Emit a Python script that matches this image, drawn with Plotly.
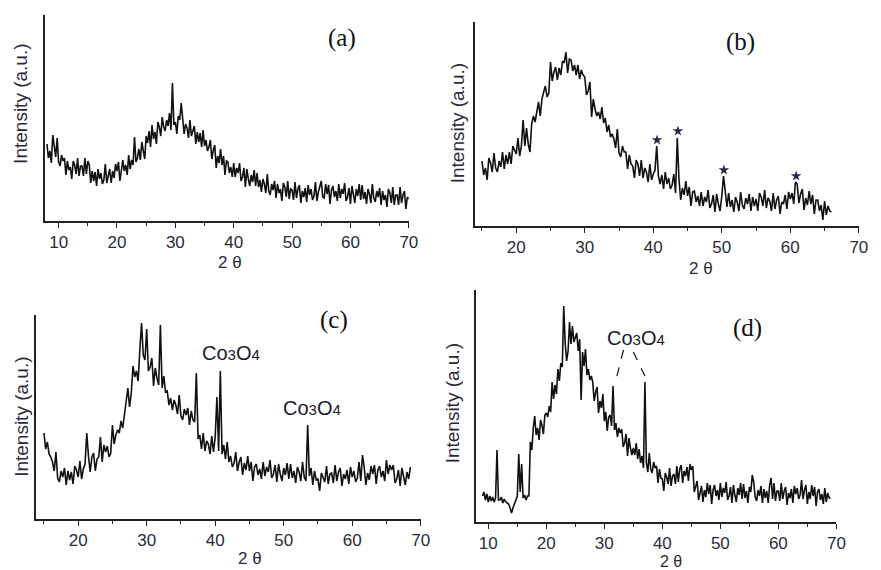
import plotly.graph_objects as go

# ---------------- data (2-theta grid start, step, intensity in a.u.) ----------------
a_start, a_step = 8.0, 0.25
a_int = [77, 63, 70, 58, 86, 73, 64, 83, 59, 55, 66, 60, 63, 46, 60, 51, 54, 42, 60, 56,
         47, 63, 45, 55, 55, 45, 63, 47, 60, 56, 38, 50, 40, 49, 35, 52, 42, 48, 37, 41,
         57, 38, 47, 52, 38, 50, 43, 57, 50, 59, 40, 54, 61, 50, 56, 46, 66, 52, 61, 56,
         84, 59, 63, 72, 61, 79, 69, 62, 85, 78, 90, 74, 96, 82, 89, 77, 99, 94, 85, 104,
         94, 90, 101, 95, 108, 91, 138, 96, 99, 87, 105, 101, 118, 105, 87, 97, 93, 83, 101, 85,
         91, 95, 77, 89, 79, 88, 74, 91, 75, 81, 70, 74, 81, 62, 71, 76, 53, 65, 58, 72,
         56, 65, 46, 60, 59, 48, 54, 44, 58, 44, 53, 48, 58, 40, 44, 53, 34, 52, 42, 35,
         46, 39, 51, 35, 48, 34, 41, 29, 42, 37, 28, 47, 30, 26, 37, 31, 40, 23, 37, 28,
         32, 20, 38, 34, 24, 40, 22, 32, 31, 21, 39, 23, 32, 36, 18, 30, 24, 33, 19, 36,
         26, 32, 21, 25, 39, 20, 29, 34, 40, 24, 23, 37, 27, 36, 17, 31, 35, 24, 30, 20,
         37, 23, 32, 27, 38, 20, 24, 33, 17, 35, 25, 18, 32, 25, 37, 21, 36, 22, 29, 17,
         32, 27, 18, 37, 23, 19, 30, 24, 33, 16, 30, 21, 26, 14, 32, 28, 18, 34, 16, 26,
         26, 16, 34, 18, 26, 30, 12, 24, 22]

b_start, b_step = 15.0, 0.25
b_int = [65, 51, 58, 46, 68, 63, 54, 73, 58, 54, 65, 59, 74, 57, 71, 62, 74, 62, 80, 76,
         72, 88, 70, 80, 106, 80, 98, 82, 74, 102, 110, 104, 115, 124, 110, 127, 134, 140, 129, 133,
         164, 145, 154, 159, 146, 158, 151, 165, 163, 174, 153, 167, 166, 155, 161, 151, 161, 147, 156, 151,
         149, 131, 135, 144, 109, 127, 117, 110, 114, 107, 119, 103, 108, 94, 101, 89, 92, 87, 78, 97,
         73, 69, 80, 74, 74, 57, 71, 62, 60, 48, 66, 62, 50, 66, 48, 58, 54, 44, 62, 46,
         52, 56, 80, 50, 42, 51, 37, 54, 42, 48, 37, 41, 52, 33, 88, 47, 26, 38, 31, 45,
         30, 39, 20, 34, 35, 24, 30, 20, 34, 20, 29, 24, 36, 18, 22, 31, 14, 32, 22, 15,
         30, 50, 35, 19, 33, 19, 26, 14, 29, 24, 15, 34, 21, 17, 28, 22, 32, 15, 29, 20,
         27, 15, 33, 29, 20, 36, 18, 28, 25, 15, 33, 17, 26, 30, 12, 24, 22, 31, 17, 34,
         27, 33, 22, 44, 42, 23, 32, 37, 16, 28, 21, 35, 22, 31, 12, 26, 26, 15, 21, 6,
         25, 11, 20, 15, 14]
b_star_x = [40.55, 43.6, 50.3, 60.85]
b_star_y = [86, 95, 56, 50]

c_start, c_step = 15.0, 0.25
c_int = [86, 70, 77, 65, 62, 57, 48, 67, 41, 37, 48, 42, 51, 34, 48, 39, 47, 35, 53, 49,
         42, 58, 40, 50, 55, 86, 63, 47, 62, 66, 48, 60, 62, 82, 57, 74, 67, 73, 62, 66,
         94, 75, 84, 89, 86, 98, 91, 105, 122, 131, 112, 126, 153, 142, 148, 138, 169, 196, 164, 159,
         190, 148, 152, 161, 133, 151, 141, 134, 194, 131, 143, 127, 128, 114, 121, 109, 119, 114, 105, 124,
         103, 99, 110, 104, 111, 94, 108, 99, 97, 146, 80, 84, 70, 86, 68, 78, 75, 65, 83, 67,
         82, 122, 68, 148, 65, 74, 60, 77, 57, 63, 52, 56, 67, 48, 57, 62, 44, 56, 49, 63,
         48, 57, 38, 52, 55, 44, 50, 40, 57, 43, 52, 47, 59, 41, 45, 54, 37, 55, 45, 38,
         51, 44, 56, 40, 55, 41, 48, 36, 52, 47, 38, 57, 42, 38, 94, 43, 51, 34, 48, 39,
         40, 28, 46, 42, 37, 53, 35, 45, 46, 36, 54, 38, 47, 51, 33, 45, 40, 49, 35, 52,
         42, 48, 37, 41, 57, 38, 64, 52, 34, 46, 39, 53, 45, 54, 35, 49, 53, 42, 48, 38,
         59, 45, 54, 49, 54, 36, 40, 49, 33, 51, 41, 34, 47, 40, 52]

d_start, d_step = 9.0, 0.25
d_int = [26, 30, 22, 28, 20, 26, 21, 25, 20, 24, 72, 22, 22, 25, 19, 23, 20, 19, 18, 14,
         9, 14, 18, 22, 26, 68, 30, 58, 24, 27, 22, 26, 26, 80, 72, 94, 106, 87, 94, 82,
         102, 97, 88, 107, 109, 105, 116, 110, 140, 123, 137, 128, 153, 141, 159, 155, 216, 179, 161, 171,
         200, 178, 196, 180, 185, 189, 171, 183, 122, 170, 156, 173, 147, 153, 142, 146, 140, 121, 130, 135,
         109, 121, 114, 128, 101, 110, 91, 105, 107, 96, 136, 92, 99, 85, 94, 89, 93, 75, 79, 88,
         66, 84, 74, 67, 74, 67, 79, 63, 73, 59, 66, 54, 140, 59, 50, 69, 53, 49, 60, 54,
         56, 39, 53, 44, 43, 31, 49, 45, 38, 54, 36, 46, 48, 38, 56, 40, 53, 57, 39, 51,
         46, 55, 41, 58, 52, 56, 30, 36, 41, 22, 31, 36, 20, 32, 25, 39, 28, 37, 18, 32,
         37, 26, 32, 22, 39, 25, 34, 29, 40, 22, 26, 35, 19, 37, 27, 20, 34, 27, 39, 23,
         38, 24, 31, 19, 35, 30, 47, 40, 25, 21, 32, 26, 36, 19, 33, 24, 31, 19, 37, 44,
         23, 39, 21, 31, 31, 21, 39, 23, 31, 35, 17, 29, 24, 33, 19, 36, 28, 34, 23, 27,
         42, 23, 32, 37, 18, 30, 23, 37, 26, 35, 16, 30, 33, 22, 28, 18, 34, 20, 29, 24,
         24]

x_ticks = [10, 20, 30, 40, 50, 60, 70]

# ---------------- layout helpers ----------------
# the page body adds an 8px margin, so the figure is drawn 8px right/down
OFF = 8
W, H = 881 - OFF, 570 - OFF


def px(x):
    return (x - OFF) / W


def py(y):
    return 1 - (y - OFF) / H


def grid(start, step, vals):
    return [start + step * i for i in range(len(vals))]


panels = [
    # start, step, values, x-range, y-range, x pixel span, y pixel span (top, bottom)
    (a_start, a_step, a_int, [7.6, 70], [0, 206], (45, 413), (15, 221)),
    (b_start, b_step, b_int, [14.0, 70], [0, 204], (480, 867.7), (22, 226)),
    (c_start, c_step, c_int, [13.9, 70], [0, 204], (36.7, 425), (315, 519)),
    (d_start, d_step, d_int, [7.9, 70], [0, 232], (481, 845), (290, 522)),
]

fig = go.Figure()
layout = {}
tick_font = dict(family="Liberation Sans, Arial, sans-serif", size=17, color="#2a2a3a")

for i, (st, sp, vals, xr, yr, xs, ys) in enumerate(panels):
    n = "" if i == 0 else str(i + 1)
    fig.add_trace(go.Scatter(x=grid(st, sp, vals), y=vals, mode="lines",
                             line=dict(color="#111111", width=1.6),
                             xaxis="x" + n, yaxis="y" + n, showlegend=False,
                             hoverinfo="skip"))
    layout["xaxis" + n] = dict(domain=[px(xs[0]), px(xs[1])], range=xr, anchor="y" + n,
                               showline=True, linecolor="#222222", linewidth=1.5,
                               showgrid=False, zeroline=False,
                               tickmode="array", tickvals=x_ticks,
                               ticks="outside", ticklen=5, tickwidth=1.2, tickcolor="#222222",
                               minor=dict(dtick=5, tick0=0, ticks="outside", ticklen=3,
                                          tickwidth=1, tickcolor="#222222"),
                               tickfont=tick_font)
    layout["yaxis" + n] = dict(domain=[py(ys[1]), py(ys[0])], range=yr, anchor="x" + n,
                               showline=True, linecolor="#222222", linewidth=1.5,
                               showgrid=False, zeroline=False, showticklabels=False,
                               ticks="")

fig.update_layout(**layout)

# star markers on panel (b)
fig.add_trace(go.Scatter(x=b_star_x, y=b_star_y, mode="markers",
                         marker=dict(symbol="star", size=8, color="#2a2a44"),
                         xaxis="x2", yaxis="y2", showlegend=False, hoverinfo="skip"))

ann = []
serif = dict(family="Liberation Serif, Times New Roman, serif", size=25, color="#111111")
sans = dict(family="Liberation Sans, Arial, sans-serif", size=19, color="#2a2a3a")

# panel labels
for txt, xr, yr, x, y in [("(a)", "x", "y", 58.6, 183), ("(b)", "x2", "y2", 52.7, 184),
                          ("(c)", "x3", "y3", 57.3, 199), ("(d)", "x4", "y4", 54.7, 194)]:
    ann.append(dict(text=txt, xref=xr, yref=yr, x=x, y=y, showarrow=False, font=serif))

# y-axis titles
for x, y in [(20, 104), (463, 123), (21, 417), (457, 403)]:
    ann.append(dict(text="Intensity (a.u.)", xref="paper", yref="paper",
                    x=px(x), y=py(y), textangle=-90, showarrow=False, font=sans,
                    xanchor="center", yanchor="middle"))

# x-axis titles
for x, y, s in [(232, 262, 17), (708, 268, 17), (253, 558, 17), (678, 561, 16)]:
    ann.append(dict(text="2 θ", xref="paper", yref="paper", x=px(x), y=py(y),
                    showarrow=False, font=dict(family="Liberation Sans, Arial, sans-serif",
                                               size=s, color="#2a2a3a"),
                    xanchor="center", yanchor="middle"))

co = "Co<span style='font-size:15px'>3</span>O<span style='font-size:15px'>4</span>"
cofont = dict(family="Liberation Sans, Arial, sans-serif", size=20, color="#1a1a2a")
ann.append(dict(text=co, xref="x3", yref="y3", x=42.3, y=166, showarrow=False, font=cofont))
ann.append(dict(text=co, xref="x3", yref="y3", x=54.1, y=111, showarrow=False, font=cofont))
ann.append(dict(text=co, xref="x4", yref="y4", x=35.5, y=184, showarrow=False, font=cofont))

fig.update_layout(annotations=ann)

fig.add_shape(type="line", xref="x4", yref="y4", x0=33.3, y0=172, x1=32.0, y1=142,
              line=dict(color="#111111", width=1.2, dash="dash"))
fig.add_shape(type="line", xref="x4", yref="y4", x0=35.0, y0=170, x1=37.0, y1=146,
              line=dict(color="#111111", width=1.2, dash="dash"))

fig.update_layout(width=W, height=H, margin=dict(l=0, r=0, t=0, b=0),
                  paper_bgcolor="white", plot_bgcolor="white")

fig.write_html("out.html")
